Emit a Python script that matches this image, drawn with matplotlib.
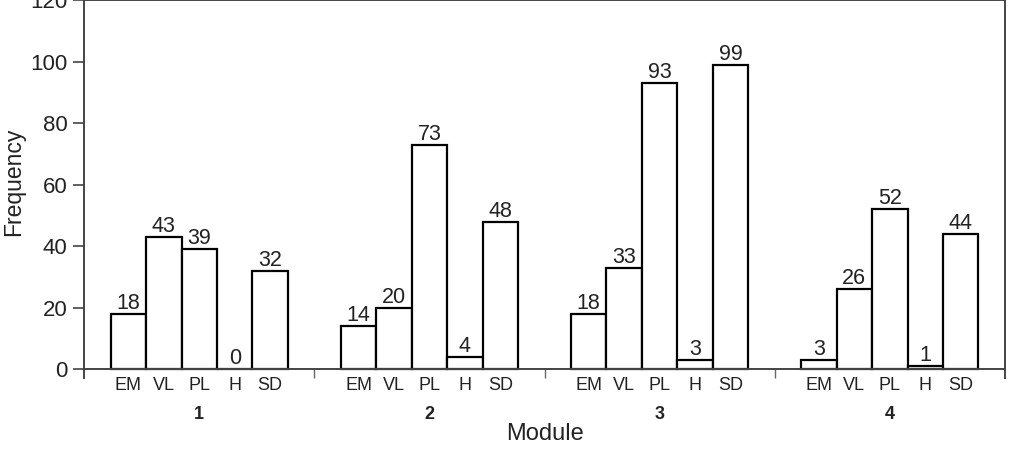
import matplotlib.pyplot as plt

plt.rcParams['font.family'] = ['Liberation Sans', 'DejaVu Sans']

modules = ['1', '2', '3', '4']
categories = ['EM', 'VL', 'PL', 'H', 'SD']
# frequency per module, in category order EM, VL, PL, H, SD
freq = [
    [18, 43, 39, 0, 32],
    [14, 20, 73, 4, 48],
    [18, 33, 93, 3, 99],
    [3, 26, 52, 1, 44],
]

fig = plt.figure(figsize=(10.14, 4.54), dpi=100)
ax = fig.add_axes([0.083, 0.167, 0.908, 0.832])

w = 0.154
txt = '#222222'
for g, vals in enumerate(freq):
    xs = [g + 0.5 + (i - 2) * w for i in range(len(categories))]
    ax.bar(xs, vals, width=w, color='white', edgecolor='black', linewidth=1.6, zorder=3)
    for x, v, c in zip(xs, vals, categories):
        ax.annotate(str(v), (x, v), xytext=(0, 0), textcoords='offset points',
                    ha='center', va='bottom', fontsize=15.5, color=txt)
        ax.annotate(c, (x, 0), xytext=(0, -5.5), textcoords='offset points',
                    ha='center', va='top', fontsize=13, color=txt)
    ax.annotate(modules[g], (g + 0.5, 0), xytext=(0, -32.5), textcoords='offset points',
                ha='center', va='center', fontsize=13, fontweight='bold', color=txt)

ax.axhline(0, color='#444444', linewidth=1.4, zorder=4)

ax.set_xlim(0, 4)
ax.set_ylim(-2.93, 120)
ax.set_yticks(range(0, 121, 20))
ax.tick_params(axis='y', direction='out', length=8, width=1.2, colors='#444444',
               labelsize=16, labelcolor=txt, pad=4)
ax.set_xticks([1, 2, 3])
ax.set_xticklabels([])
ax.tick_params(axis='x', direction='in', length=6.5, width=1.0, colors='#666666')

ax.spines['bottom'].set_visible(False)
for s in ['left', 'right', 'top']:
    ax.spines[s].set_color('#444444')
    ax.spines[s].set_linewidth(1.4)

ax.set_xlabel('Module', fontsize=17, color=txt)
ax.xaxis.set_label_coords(0.5, -0.118)
ax.set_ylabel('Frequency', fontsize=16.5, color=txt)
ax.yaxis.set_label_coords(-0.064, 0.52)

fig.savefig('out.png', dpi=100)
